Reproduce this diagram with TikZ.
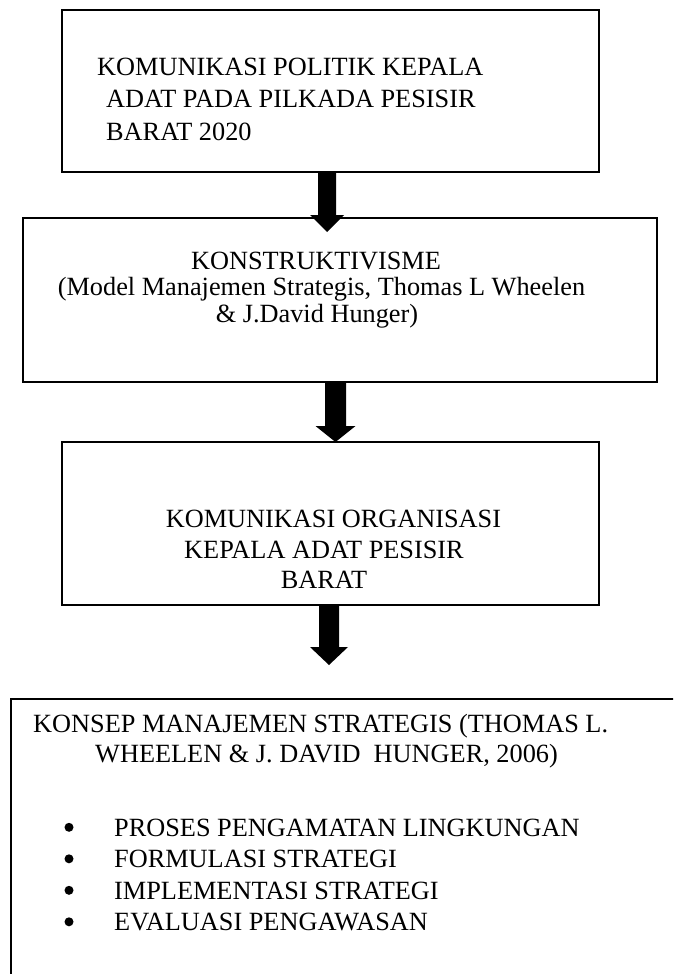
\documentclass[tikz,border=0pt]{standalone}
\usepackage{fontspec}
\setmainfont{Liberation Serif}
\usetikzlibrary{calc}
\begin{document}
\begin{tikzpicture}[x=1pt,y=-1pt,
  box/.style={draw=black, line width=2pt, inner sep=0pt, rectangle},
  txt/.style={inner sep=0pt, font=\fontsize{26.3}{32}\selectfont},
  arr/.style={fill=black}]
\useasboundingbox (0,0) rectangle (673,974);
\clip (0,0) rectangle (673,974);
% boxes
\node[box, minimum width=537pt, minimum height=162pt] (b1) at (330.5,91) {};
\node[box, minimum width=634pt, minimum height=164pt] (b2) at (340,300) {};
\node[box, minimum width=537pt, minimum height=163pt] (b3) at (330.5,523.5) {};
\node[box, minimum width=689pt, minimum height=301pt] (b4) at (355.5,849.5) {};
% box 1 text
\node[txt, anchor=base west] (t1a) at (97,75) {KOMUNIKASI POLITIK KEPALA};
\node[txt, anchor=base west] (t1b) at (106,107) {ADAT PADA PILKADA PESISIR};
\node[txt, anchor=base west] (t1c) at (106,140) {BARAT 2020};
% box 2 text
\node[txt, anchor=base] (t2a) at (316,269) {KONSTRUKTIVISME};
\node[txt, anchor=base] (t2b) at (321.5,295) {(Model Manajemen Strategis, Thomas L Wheelen};
\node[txt, anchor=base] (t2c) at (317,322) {\& J.David Hunger)};
% box 3 text
\node[txt, anchor=base] (t3a) at (333.5,527) {KOMUNIKASI ORGANISASI};
\node[txt, anchor=base] (t3b) at (324,558) {KEPALA ADAT PESISIR};
\node[txt, anchor=base] (t3c) at (324,588) {BARAT};
% box 4 text
\node[txt, anchor=base west] (t4a) at (33,732) {KONSEP MANAJEMEN STRATEGIS (THOMAS L.};
\node[txt, anchor=base west] (t4b) at (95,762) {WHEELEN \& J. DAVID \ HUNGER, 2006)};
\node[txt, anchor=base west] (l1) at (114,836) {PROSES PENGAMATAN LINGKUNGAN};
\node[txt, anchor=base west] (l2) at (114,867.5) {FORMULASI STRATEGI};
\node[txt, anchor=base west] (l3) at (114,899) {IMPLEMENTASI STRATEGI};
\node[txt, anchor=base west] (l4) at (114,930.5) {EVALUASI PENGAWASAN};
\foreach \n in {l1,l2,l3,l4}{
  \fill ($(\n.base west)+(-45,-8.7)$) circle (4.5pt);
}
% arrows
\coordinate (p1) at (327,232);
\coordinate (p2) at (335.5,442);
\coordinate (p3) at (329,665);
\fill[arr] ($(b1.south -| p1)+(-9,0)$) -- ($(p1)+(-9,-17)$) -- ($(p1)+(-17,-17)$) -- (p1)
  -- ($(p1)+(17,-17)$) -- ($(p1)+(9,-17)$) -- ($(b1.south -| p1)+(9,0)$) -- cycle;
\fill[arr] ($(b2.south -| p2)+(-10.5,0)$) -- ($(p2)+(-10.5,-16)$) -- ($(p2)+(-20,-16)$) -- (p2)
  -- ($(p2)+(20,-16)$) -- ($(p2)+(10.5,-16)$) -- ($(b2.south -| p2)+(10.5,0)$) -- cycle;
\fill[arr] ($(b3.south -| p3)+(-10,0)$) -- ($(p3)+(-10,-18)$) -- ($(p3)+(-19,-18)$) -- (p3)
  -- ($(p3)+(19,-18)$) -- ($(p3)+(10,-18)$) -- ($(b3.south -| p3)+(10,0)$) -- cycle;
\end{tikzpicture}
\end{document}
